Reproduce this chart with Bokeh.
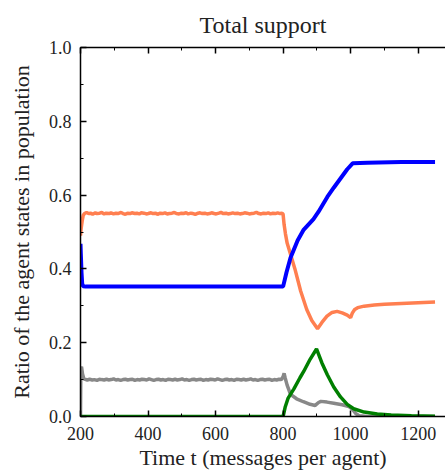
from bokeh.plotting import figure
from bokeh.models import Range1d, LinearAxis, SingleIntervalTicker, PrintfTickFormatter, CustomJSTickFormatter
from bokeh.embed import file_html
from bokeh.resources import INLINE

# ---- data ----
orange_t = [200, 202, 205, 208, 212, 218, 224, 231, 236, 244, 249, 257, 263, 270, 276, 285,
            290, 298, 305, 311, 320, 326, 333, 339, 347, 352, 361, 367, 374, 380, 388, 395,
            401, 409, 415, 423, 428, 436, 443, 450, 457, 463, 471, 478, 484, 492, 499, 505,
            513, 519, 527, 533, 540, 548, 554, 561, 568, 575, 582, 588, 596, 602, 610, 616,
            623, 631, 637, 644, 651, 658, 665, 672, 679, 686, 693, 700, 707, 714, 721, 728,
            735, 742, 749, 756, 763, 770, 777, 784, 791, 797,
            800, 803, 807, 812, 822, 835, 852, 870, 885, 902,
            915, 930, 945, 960, 975, 990, 1000, 1005, 1012, 1021, 1040, 1070, 1100, 1150,
            1200, 1250]
orange_v = [0.49, 0.51, 0.53, 0.545, 0.550, 0.553, 0.550, 0.551, 0.548, 0.552, 0.550, 0.551,
            0.553, 0.549, 0.551, 0.550, 0.552, 0.549, 0.551, 0.550, 0.553, 0.550, 0.548,
            0.551, 0.550, 0.552, 0.550, 0.551, 0.549, 0.552, 0.551, 0.549, 0.550, 0.552,
            0.550, 0.551, 0.548, 0.551, 0.550, 0.552, 0.549, 0.550, 0.551, 0.553, 0.550,
            0.549, 0.551, 0.550, 0.552, 0.549, 0.551, 0.550, 0.548, 0.551, 0.552, 0.550,
            0.551, 0.549, 0.550, 0.552, 0.550, 0.549, 0.551, 0.553, 0.550, 0.551, 0.549,
            0.550, 0.552, 0.550, 0.551, 0.549, 0.550, 0.552, 0.551, 0.549, 0.550, 0.551,
            0.553, 0.550, 0.549, 0.551, 0.550, 0.552, 0.549, 0.551, 0.550, 0.552, 0.550,
            0.551,
            0.548, 0.52, 0.495, 0.47, 0.44, 0.40, 0.34, 0.29, 0.26, 0.238,
            0.255, 0.272, 0.282, 0.285, 0.281, 0.275, 0.268, 0.280, 0.290, 0.295, 0.299,
            0.302, 0.304, 0.306, 0.308, 0.310]

blue_t = [200, 201, 203, 205, 208, 215, 400, 600, 800, 810, 822, 843, 860, 890, 905,
          931, 950, 970, 990, 1006, 1050, 1150, 1250]
blue_v = [0.468, 0.44, 0.39, 0.36, 0.353, 0.352, 0.352, 0.352, 0.352, 0.39, 0.43, 0.477,
          0.505, 0.535, 0.555, 0.595, 0.62, 0.645, 0.67, 0.686, 0.688, 0.690, 0.690]

gray_t = [200, 201, 203, 206, 210, 220, 227, 235, 241, 249, 256, 262, 270, 277, 283, 291,
          298, 305, 312, 319, 326, 333, 340, 347, 354, 361, 368, 375, 382, 389, 396, 403,
          410, 417, 424, 431, 438, 445, 452, 459, 466, 473, 480, 487, 494, 501, 508, 515,
          522, 529, 536, 543, 550, 557, 564, 571, 578, 585, 592, 599, 606, 613, 620, 627,
          634, 641, 648, 655, 662, 669, 676, 683, 690, 697, 704, 711, 718, 725, 732, 739,
          746, 753, 760, 767, 774, 781, 788, 795,
          800, 803, 806, 812, 822, 840, 860, 880, 895, 905, 912, 930, 950,
          975, 995, 1005, 1015, 1025, 1050, 1250]
gray_v = [0.0, 0.13, 0.135, 0.115, 0.102, 0.099, 0.101, 0.099, 0.100, 0.098, 0.101, 0.100,
          0.099, 0.101, 0.099, 0.100, 0.102, 0.099, 0.100, 0.098, 0.100, 0.101, 0.099,
          0.100, 0.101, 0.098, 0.100, 0.099, 0.101, 0.100, 0.099, 0.102, 0.100, 0.098,
          0.100, 0.101, 0.099, 0.100, 0.098, 0.101, 0.100, 0.099, 0.101, 0.099, 0.100,
          0.102, 0.099, 0.100, 0.098, 0.100, 0.101, 0.099, 0.100, 0.101, 0.098, 0.100,
          0.099, 0.101, 0.100, 0.099, 0.102, 0.100, 0.098, 0.100, 0.101, 0.099, 0.100,
          0.098, 0.101, 0.100, 0.099, 0.101, 0.099, 0.100, 0.102, 0.099, 0.100, 0.098,
          0.100, 0.101, 0.099, 0.100, 0.101, 0.098, 0.100, 0.099, 0.101, 0.100,
          0.108, 0.117, 0.105, 0.085, 0.060, 0.048, 0.040, 0.033, 0.030, 0.038,
          0.041, 0.039, 0.036, 0.032, 0.027, 0.020, 0.008, 0.002, 0.0, 0.0]

green_t = [200, 800, 806, 815, 832, 850, 861, 880, 899, 915, 931, 950, 970, 990, 1009,
           1040, 1079, 1120, 1180, 1250]
green_v = [0.0, 0.0, 0.025, 0.05, 0.075, 0.105, 0.122, 0.155, 0.183, 0.145, 0.113, 0.08,
           0.053, 0.033, 0.021, 0.012, 0.007, 0.004, 0.002, 0.001]

title_text = "Total support"
x_label = "Time t (messages per agent)"
y_label = "Ratio of the agent states in population"

FONT = "'Liberation Serif', 'Times New Roman', serif"

p = figure(width=445, height=472, output_backend="svg", toolbar_location=None,
           x_range=Range1d(200, 1281), y_range=Range1d(0, 1.0),
           min_border_left=80, min_border_right=0, min_border_top=10, min_border_bottom=0)

p.title.text = title_text
p.title.text_font = FONT
p.title.text_font_size = "24px"
p.title.text_font_style = "normal"
p.title.align = "center"
p.title.text_color = "#222222"
p.title.standoff = 19

p.xgrid.visible = False
p.ygrid.visible = False
p.outline_line_color = None

p.line(orange_t, orange_v, line_color="#ff7f50", line_width=3.5)
p.line(gray_t, gray_v, line_color="#888888", line_width=3.5)
p.line(blue_t, blue_v, line_color="#0000ff", line_width=4)
p.line(green_t, green_v, line_color="#007f00", line_width=3.5)


def style_axis(ax, show_labels):
    ax.major_tick_in = 6
    ax.major_tick_out = 0
    ax.minor_tick_in = 3
    ax.minor_tick_out = 0
    ax.axis_line_color = "black"
    ax.axis_line_width = 1.5
    ax.major_tick_line_color = "black"
    ax.minor_tick_line_color = "black"
    ax.major_tick_line_width = 1.5
    ax.minor_tick_line_width = 1
    if show_labels:
        ax.major_label_text_font = FONT
        ax.major_label_text_font_size = "18px"
        ax.major_label_text_color = "#222222"
        ax.axis_label_text_font = FONT
        ax.axis_label_text_font_size = "22px"
        ax.axis_label_text_font_style = "normal"
        ax.axis_label_text_color = "#222222"
    else:
        ax.formatter = CustomJSTickFormatter(code="return ''")
        ax.major_label_standoff = 0


p.xaxis.ticker = SingleIntervalTicker(interval=200, num_minor_ticks=2)
p.yaxis.ticker = SingleIntervalTicker(interval=0.2, num_minor_ticks=2)
p.yaxis.formatter = PrintfTickFormatter(format="%.1f")
p.xaxis.axis_label = x_label
p.yaxis.axis_label = y_label
style_axis(p.xaxis[0], True)
style_axis(p.yaxis[0], True)
p.xaxis.major_label_standoff = 10
p.xaxis.axis_label_standoff = 2
p.yaxis.major_label_standoff = 9
p.yaxis.axis_label_standoff = 12

top = LinearAxis(ticker=SingleIntervalTicker(interval=200, num_minor_ticks=2))
style_axis(top, False)
p.add_layout(top, "above")

open("out.html", "w").write(file_html(p, INLINE))
